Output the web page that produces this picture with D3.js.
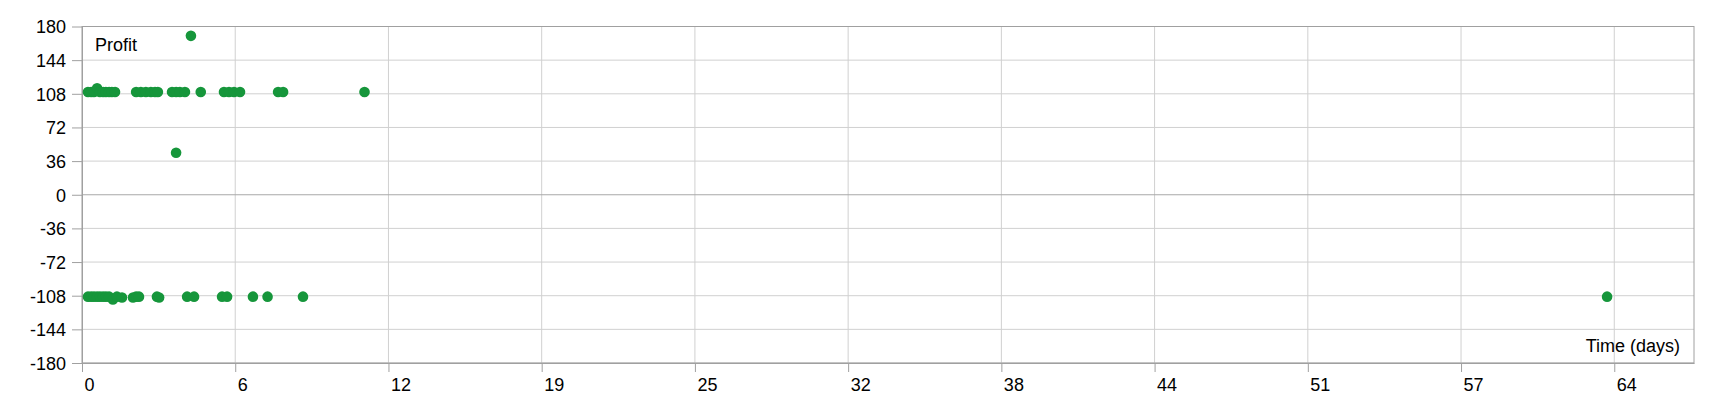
<!DOCTYPE html>
<html>
<head>
<meta charset="utf-8">
<script src="https://cdn.jsdelivr.net/npm/d3@7"></script>
<style>
  body { margin: 0; background: #fff; }
  text { font-family: "Liberation Sans", Arial, sans-serif; fill: #000; }
</style>
</head>
<body>
<div id="chart"></div>
<script>
// trade data: time since start (days) and profit per trade
var timeDays = [
  0.25, 0.38, 0.50, 0.63, 0.75, 0.88, 1.00, 1.13, 1.25, 1.38,
  2.26, 2.46, 2.67, 2.88, 3.05, 3.17,
  3.76, 3.93, 4.09, 4.30, 4.96,
  5.93, 6.14, 6.35, 6.60, 8.19, 8.40, 11.80,
  3.93, 4.55,
  0.25, 0.38, 0.50, 0.63, 0.75, 0.88, 1.00, 1.13, 1.29, 1.46, 1.67,
  2.13, 2.26, 2.38, 3.13, 3.22, 4.39, 4.68, 5.85, 6.06,
  7.14, 7.75, 9.23, 63.70
];
var profit = [
  110, 110, 110, 114, 110, 110, 110, 110, 110, 110,
  110, 110, 110, 110, 110, 110,
  110, 110, 110, 110, 110,
  110, 110, 110, 110, 110, 110, 110,
  45, 170,
  -109, -109, -109, -109, -109, -109, -109, -109, -112, -109, -110,
  -110, -109, -109, -109, -110, -109, -109, -109, -109,
  -109, -109, -109, -109
];
var xTicks = [0, 6.4, 12.8, 19.2, 25.6, 32, 38.4, 44.8, 51.2, 57.6, 64];
var yTicks = [-180, -144, -108, -72, -36, 0, 36, 72, 108, 144, 180];
var xMax = 67.33;

var svgWidth = 1720;
var svgHeight = 400;

var margin = { top: 26.5, right: 26, bottom: 37, left: 82 };

var svg = d3.select("#chart")
  .append("svg")
  .attr("width", svgWidth)
  .attr("height", svgHeight);

var x = d3.scaleLinear()
  .domain([0, xMax])
  .range([margin.left, svgWidth - margin.right]);

var y = d3.scaleLinear()
  .domain([-180, 180])
  .range([svgHeight - margin.bottom, margin.top]);

// grid lines
svg.append("g").selectAll("line")
  .data(xTicks.slice(1))
  .enter()
  .append("line")
  .attr("x1", d => x(d)).attr("x2", d => x(d))
  .attr("y1", y(180)).attr("y2", y(-180))
  .attr("stroke", "#d0d0d0")
  .attr("stroke-width", 1);

svg.append("g").selectAll("line")
  .data(yTicks)
  .enter()
  .append("line")
  .attr("x1", x(0)).attr("x2", x(xMax))
  .attr("y1", d => y(d)).attr("y2", d => y(d))
  .attr("stroke", d => d === 0 ? "#a8a8a8" : "#d0d0d0")
  .attr("stroke-width", 1);

// frame
svg.append("rect")
  .attr("x", x(0)).attr("y", y(180))
  .attr("width", x(xMax) - x(0))
  .attr("height", y(-180) - y(180))
  .attr("fill", "none")
  .attr("stroke", "#a0a0a0");

// axes
var bottomAxis = d3.axisBottom(x)
  .tickValues(xTicks)
  .tickFormat(d => Math.floor(d))
  .tickSize(9)
  .tickSizeOuter(0);

var leftAxis = d3.axisLeft(y)
  .tickValues(yTicks)
  .tickFormat(d => String(d))
  .tickSize(10)
  .tickSizeOuter(0);

var xAxis = svg.append("g")
  .attr("transform", `translate(0, ${y(-180)})`)
  .call(bottomAxis);

xAxis.select(".domain").attr("stroke", "#a0a0a0");
xAxis.selectAll(".tick line").attr("stroke", "#a0a0a0");
xAxis.selectAll(".tick text")
  .attr("text-anchor", "start")
  .attr("x", 2)
  .attr("y", 0)
  .attr("dy", "28px")
  .style("font-size", "18px")
  .attr("font-family", null);

var yAxis = svg.append("g")
  .attr("transform", `translate(${x(0)}, 0)`)
  .call(leftAxis);

yAxis.select(".domain").attr("stroke", "#a0a0a0");
yAxis.selectAll(".tick line").attr("stroke", "#a0a0a0");
yAxis.selectAll(".tick text")
  .attr("x", -16)
  .attr("dy", "0.35em")
  .style("font-size", "18px")
  .attr("font-family", null);

// points
svg.append("g").selectAll("circle")
  .data(timeDays)
  .enter()
  .append("circle")
  .attr("cx", d => x(d))
  .attr("cy", (d, i) => y(profit[i]))
  .attr("r", 5.3)
  .attr("fill", "#16963b");

// axis titles
svg.append("text")
  .attr("x", 95)
  .attr("y", 51)
  .style("font-size", "18px")
  .text("Profit");

svg.append("text")
  .attr("x", 1680)
  .attr("y", 352)
  .attr("text-anchor", "end")
  .style("font-size", "18px")
  .text("Time (days)");
</script>
</body>
</html>
